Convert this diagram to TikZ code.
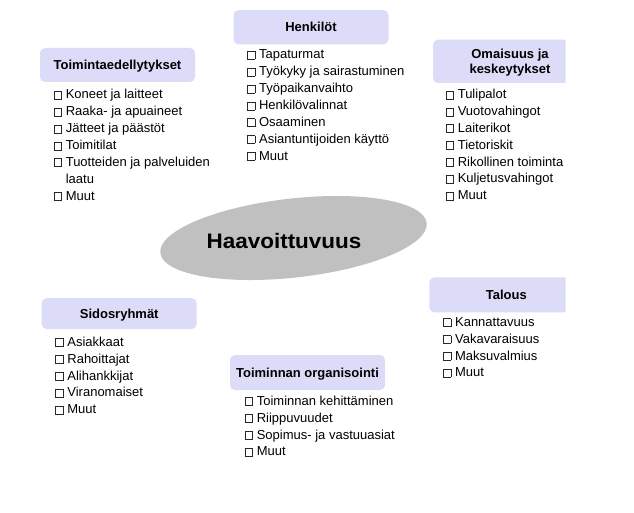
\documentclass[tikz,border=0pt]{standalone}
\usepackage{fontspec}
\setmainfont{Liberation Sans}
\usetikzlibrary{shapes.geometric}
\definecolor{hdrfill}{RGB}{220,220,248}
\definecolor{ellfill}{RGB}{192,192,192}
\definecolor{boxline}{RGB}{40,40,40}
\newcommand\chkbox{{\setlength\fboxsep{0pt}\setlength\fboxrule{0.45pt}\color{boxline}\fbox{\rule{0pt}{7.5pt}\hspace{7.5pt}}}\hspace{3.9pt}}
\tikzset{
  hdr/.style={fill=hdrfill, rounded corners=5pt, inner sep=0pt,
    minimum width=155pt, minimum height=34.5pt, align=center,
    font=\fontsize{13}{15.3}\selectfont\bfseries, text height=9.4pt, text depth=0pt},
  lst/.style={anchor=north west, inner sep=0pt, align=left,
    font=\fontsize{13}{16.85}\selectfont},
  ell/.style={ellipse, fill=ellfill, draw=none, inner sep=0pt,
    minimum width=268pt, minimum height=79pt, rotate=6.4},
  ttl/.style={inner sep=0pt, font=\fontsize{21}{24}\selectfont\bfseries,
    text height=15pt, text depth=0pt}
}
\begin{document}
\begin{tikzpicture}[x=1pt,y=-1pt]
\useasboundingbox (0,0) rectangle (634,513);
\fill[white] (0,0) rectangle (634,513);

% central ellipse
\node[ell] (ell) at (293.5,238) {};
\node[ttl] (title) at (284,241) {\scalebox{1.07}[1]{Haavoittuvuus}};

% header boxes
\node[hdr, minimum height=34.3pt] (h1) at (311,27.2) {Henkilöt};
\node[hdr, minimum height=34pt] (h2) at (117.5,65) {Toimintaedellytykset};
\node[hdr, minimum height=31pt] (h4) at (119.2,313.6) {Sidosryhmät};
\node[hdr, minimum height=35pt] (h5) at (307.5,372.5) {Toiminnan organisointi};
\begin{scope}
  \clip (0,0) rectangle (565.5,513);
  \node[hdr, minimum width=154pt, minimum height=43.4pt, text height=24.7pt] (h3) at (510,61.3) {Omaisuus ja\\keskeytykset};
  \node[hdr, minimum width=154pt, minimum height=35pt] (h6) at (506.3,294.8) {Talous};
\end{scope}

% lists
\node[lst] (l1) at (246.6,47.0) {\strut\chkbox Tapaturmat\\
  \chkbox Työkyky ja sairastuminen\\
  \chkbox Työpaikanvaihto\\
  \chkbox Henkilövalinnat\\
  \chkbox Osaaminen\\
  \chkbox Asiantuntijoiden käyttö\\
  \chkbox Muut};
\node[lst] (l2) at (53.3,87.0) {\strut\chkbox Koneet ja laitteet\\
  \chkbox Raaka- ja apuaineet\\
  \chkbox Jätteet ja päästöt\\
  \chkbox Toimitilat\\
  \chkbox Tuotteiden ja palveluiden\\
  \hphantom{\chkbox}laatu\\
  \chkbox Muut};
\node[lst] (l3) at (445.3,86.7) {\strut\chkbox Tulipalot\\
  \chkbox Vuotovahingot\\
  \chkbox Laiterikot\\
  \chkbox Tietoriskit\\
  \chkbox Rikollinen toiminta\\
  \chkbox Kuljetusvahingot\\
  \chkbox Muut};
\node[lst] (l4) at (54.9,334.4) {\strut\chkbox Asiakkaat\\
  \chkbox Rahoittajat\\
  \chkbox Alihankkijat\\
  \chkbox Viranomaiset\\
  \chkbox Muut};
\node[lst] (l5) at (244.3,393.4) {\strut\chkbox Toiminnan kehittäminen\\
  \chkbox Riippuvuudet\\
  \chkbox Sopimus- ja vastuuasiat\\
  \chkbox Muut};
\node[lst] (l6) at (442.6,314.4) {\strut\chkbox Kannattavuus\\
  \chkbox Vakavaraisuus\\
  \chkbox Maksuvalmius\\
  \chkbox Muut};
\end{tikzpicture}
\end{document}
